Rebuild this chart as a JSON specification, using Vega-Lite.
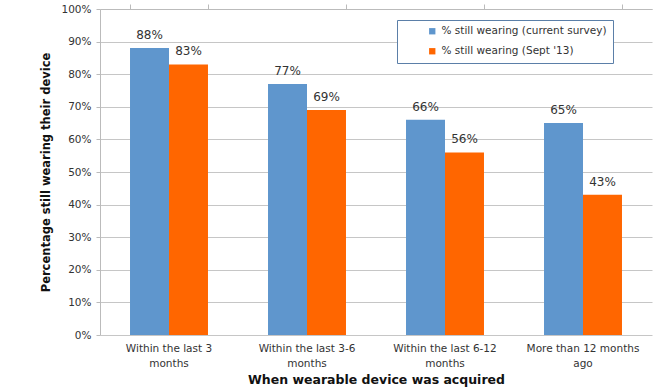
{
  "$schema": "https://vega.github.io/schema/vega-lite/v6.json",
  "width": 552,
  "height": 326,
  "autosize": {"type": "none"},
  "padding": {"left": 100, "top": 9, "right": 2, "bottom": 54},
  "background": "white",
  "config": {
    "font": "DejaVu Sans",
    "view": {"stroke": null},
    "axis": {"labelFont": "DejaVu Sans", "titleFont": "DejaVu Sans"},
    "legend": {"labelFont": "DejaVu Sans"}
  },
  "data": {
    "values": [
      {"acquired": "Within the last 3 months", "series": "% still wearing (current survey)", "pct": 0.88},
      {"acquired": "Within the last 3 months", "series": "% still wearing (Sept '13)", "pct": 0.83},
      {"acquired": "Within the last 3-6 months", "series": "% still wearing (current survey)", "pct": 0.77},
      {"acquired": "Within the last 3-6 months", "series": "% still wearing (Sept '13)", "pct": 0.69},
      {"acquired": "Within the last 6-12 months", "series": "% still wearing (current survey)", "pct": 0.66},
      {"acquired": "Within the last 6-12 months", "series": "% still wearing (Sept '13)", "pct": 0.56},
      {"acquired": "More than 12 months ago", "series": "% still wearing (current survey)", "pct": 0.65},
      {"acquired": "More than 12 months ago", "series": "% still wearing (Sept '13)", "pct": 0.43}
    ]
  },
  "encoding": {
    "xOffset": {"field": "series", "type": "nominal", "sort": null},
    "y": {
      "field": "pct",
      "type": "quantitative",
      "scale": {"domain": [0, 1]},
      "axis": {
        "title": "Percentage still wearing their device",
        "titleFontSize": 11.5,
        "titleFontWeight": "bold",
        "titleColor": "#111111",
        "titlePadding": 9,
        "values": [0, 0.1, 0.2, 0.3, 0.4, 0.5, 0.6, 0.7, 0.8, 0.9, 1],
        "format": ".0%",
        "labelFontSize": 10.5,
        "labelColor": "#333333",
        "labelPadding": 5,
        "tickSize": 4,
        "tickColor": "#bbbbbb",
        "domainColor": "#bbbbbb",
        "gridColor": "#c6c6c6",
        "gridWidth": 1
      }
    }
  },
  "resolve": {"axis": {"x": "independent"}},
  "layer": [
    {
      "mark": {"type": "bar"},
      "encoding": {
        "x": {
          "field": "acquired",
          "type": "nominal",
          "sort": null,
          "scale": {"paddingInner": 0.435, "paddingOuter": 0.2175},
          "axis": {
            "title": "When wearable device was acquired",
            "titleFontSize": 12.5,
            "titleFontWeight": "bold",
            "titleColor": "#111111",
            "titlePadding": 5,
            "labelAngle": 0,
            "labelFontSize": 10.5,
            "labelColor": "#333333",
            "labelPadding": 3,
            "labelLineHeight": 15,
            "labelExpr": "datum.label == 'Within the last 3 months' ? ['Within the last 3', 'months'] : datum.label == 'Within the last 3-6 months' ? ['Within the last 3-6', 'months'] : datum.label == 'Within the last 6-12 months' ? ['Within the last 6-12', 'months'] : ['More than 12 months', 'ago']",
            "ticks": true,
            "tickSize": 5,
            "tickOpacity": 0,
            "domain": false,
            "grid": false
          }
        },
        "color": {
          "field": "series",
          "type": "nominal",
          "sort": null,
          "scale": {"range": ["#5f96cd", "#ff6600"]},
          "legend": {
            "title": null,
            "orient": "none",
            "legendX": 297,
            "legendY": 11,
            "direction": "vertical",
            "symbolType": "square",
            "symbolSize": 40,
            "symbolOffset": 24,
            "labelFontSize": 10.5,
            "labelLimit": 400,
            "labelColor": "#333333",
            "labelOffset": 4,
            "rowPadding": 9,
            "padding": 6,
            "strokeColor": "#5b7fa8",
            "fillColor": "white"
          }
        }
      }
    },
    {
      "mark": {"type": "text", "baseline": "bottom", "dy": -6, "fontSize": 12, "color": "#333333"},
      "encoding": {
        "x": {
          "field": "acquired",
          "type": "nominal",
          "sort": null,
          "axis": {
            "title": null,
            "labels": false,
            "tickBand": "extent",
            "tickSize": 5,
            "tickColor": "#bbbbbb",
            "domainColor": "#bbbbbb",
            "grid": false
          }
        },
        "text": {"field": "pct", "type": "quantitative", "format": ".0%"},
        "detail": {"field": "series"}
      }
    }
  ]
}
